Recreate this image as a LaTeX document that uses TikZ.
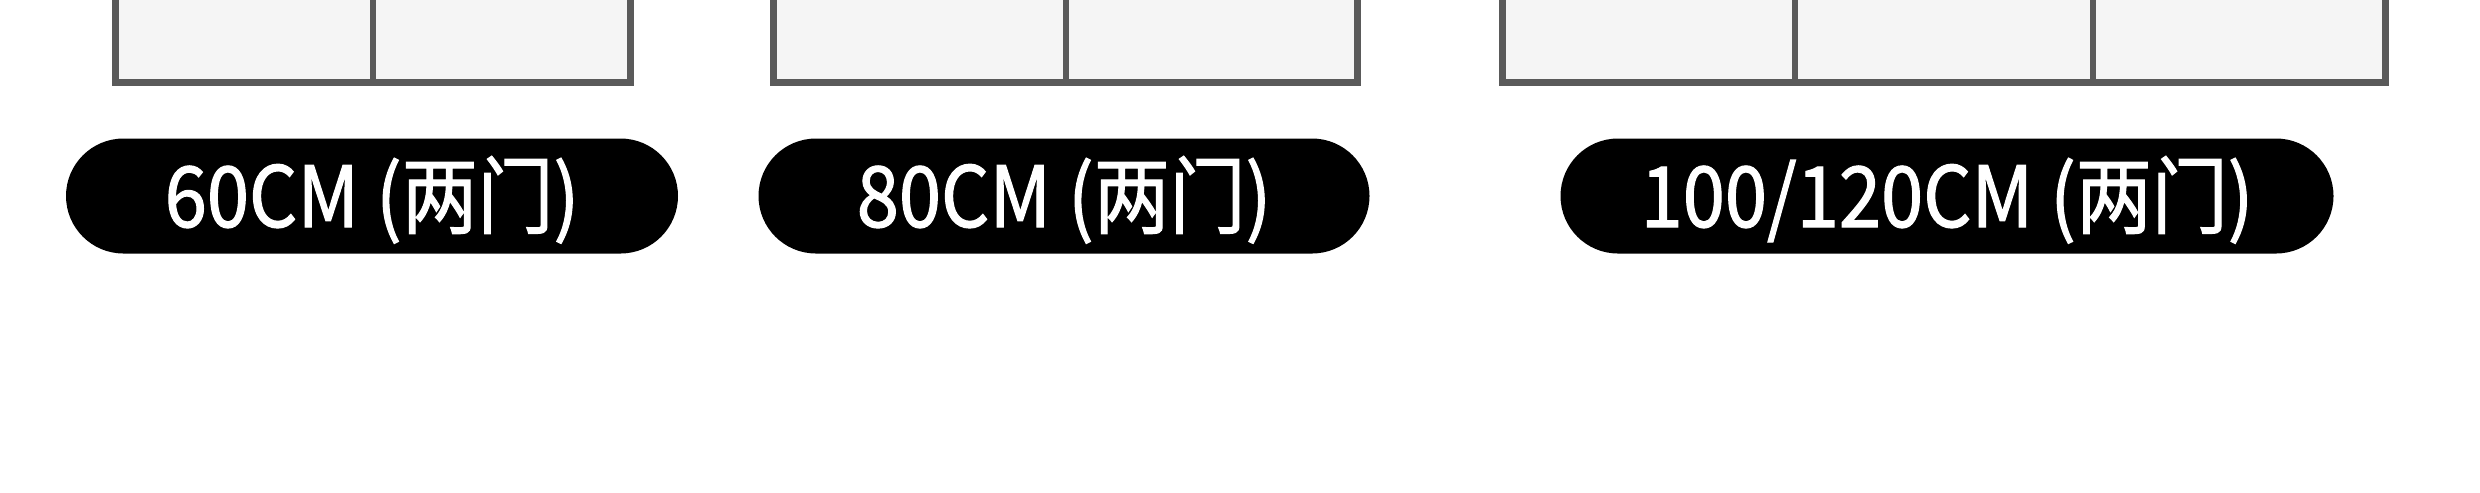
\documentclass[tikz,border=0pt]{standalone}
\usepackage{fontspec}
\setmainfont{Noto Sans CJK SC}[FakeStretch=0.9, FakeBold=1.3]
\usetikzlibrary{positioning}
\definecolor{cabinetfill}{HTML}{F5F5F5}
\definecolor{cabinetline}{HTML}{5A5A5A}
\tikzset{
  cabinet/.style={draw=cabinetline, line width=0.7mm, line join=miter},
  divider/.style={draw=cabinetline, line width=0.6mm},
  sizetag/.style={rectangle, rounded corners=5.75mm, fill=black, text=white, inner sep=0pt,
    minimum height=11.5mm, text height=6.2mm, text depth=0pt,
    font=\fontsize{24}{28}\selectfont}
}

\begin{document}
\begin{tikzpicture}[x=0.1mm, y=-0.1mm]
  \useasboundingbox[fill=white] (0,0) rectangle (2480,492);

  % cabinet fronts, cut at the top
  \fill[cabinetfill] (115,0) rectangle (630,82);
  \draw[cabinet] (115,0) -- (115,82) -- (630,82) -- (630,0);
  \draw[divider] (373,0) -- (373,82);

  \fill[cabinetfill] (773,0) rectangle (1357,82);
  \draw[cabinet] (773,0) -- (773,82) -- (1357,82) -- (1357,0);
  \draw[divider] (1066,0) -- (1066,82);

  \fill[cabinetfill] (1502,0) rectangle (2385,82);
  \draw[cabinet] (1502,0) -- (1502,82) -- (2385,82) -- (2385,0);
  \foreach \xd in {1795, 2093}
    \draw[divider] (\xd,0) -- (\xd,82);

  % size labels
  \node[sizetag, minimum width=61.2mm] (tag60) at (372,196) {60CM (两门)};
  \node[sizetag, minimum width=61.1mm] (tag80) at (1064,196) {80CM (两门)};
  \node[sizetag, minimum width=77.3mm] (tag120) at (1947,196) {100/120CM (两门)};
\end{tikzpicture}
\end{document}
